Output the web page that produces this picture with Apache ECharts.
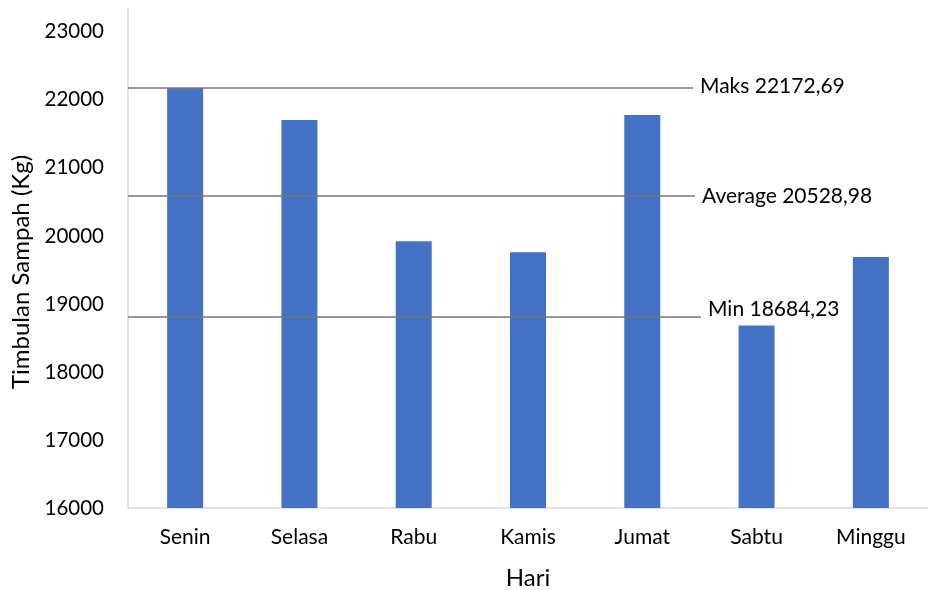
<!DOCTYPE html>
<html>
<head>
<meta charset="utf-8">
<script src="https://cdn.jsdelivr.net/npm/echarts@6/dist/echarts.min.js"></script>
<style>
  html, body { margin: 0; padding: 0; background: #fff; }
  #chart { width: 928px; height: 590px; }
</style>
</head>
<body>
<div id="chart"></div>
<script>
// data
var days = ['Senin', 'Selasa', 'Rabu', 'Kamis', 'Jumat', 'Sabtu', 'Minggu'];
var sampah = [22172.69, 21703, 19920, 19758, 21777, 18684.23, 19690];
// reference lines: where they sit in the picture, and their text
var refValues = [22172.69, 20590, 18812];
var refLabels = ['Maks 22172,69', 'Average 20528,98', 'Min 18684,23'];

var font = 'Lato';
var chart = echarts.init(document.getElementById('chart'));

// hand-drawn look: each line stops at a slightly different x, min label sits above its line
var lineEndX = [693, 695, 701];
var labelShift = [[0, -2], [0, 0], [0, -7]];
var lineData = [];
for (var i = 0; i < refValues.length; i++) {
  lineData.push([
    { yAxis: refValues[i], x: 128 },
    { yAxis: refValues[i], x: lineEndX[i], label: { formatter: refLabels[i], offset: labelShift[i] } }
  ]);
}

chart.setOption({
  animation: false,
  grid: { left: 128, right: 0, top: 8, bottom: 82, containLabel: false, outerBoundsMode: 'none' },
  xAxis: {
    type: 'category',
    data: days,
    name: 'Hari',
    nameLocation: 'middle',
    nameGap: 58,
    nameTextStyle: { fontFamily: font, fontSize: 24, color: '#000' },
    axisLine: { lineStyle: { color: '#d9d9d9', width: 1.5 } },
    axisTick: { show: false },
    axisLabel: { fontFamily: font, fontSize: 21, color: '#000', margin: 19 }
  },
  yAxis: {
    type: 'value',
    min: 16000,
    max: 23350,
    interval: 1000,
    name: 'Timbulan Sampah (Kg)',
    nameLocation: 'middle',
    nameGap: 93,
    nameTextStyle: { fontFamily: font, fontSize: 24, color: '#000', padding: [0, 28, 0, 0] },
    axisLine: { show: true, lineStyle: { color: '#d9d9d9', width: 1.5 } },
    axisTick: { show: false },
    splitLine: { show: false },
    axisLabel: {
      fontFamily: font, fontSize: 20.5, color: '#000', margin: 24, showMaxLabel: false,
      formatter: function (v) { return String(v); }
    }
  },
  series: [{
    type: 'bar',
    data: sampah,
    barWidth: 36,
    itemStyle: { color: '#4472c4' },
    markLine: {
      silent: true,
      symbol: 'none',
      lineStyle: { color: '#767676', width: 1.5, type: 'solid' },
      label: {
        position: 'end',
        distance: 7,
        fontFamily: font,
        fontSize: 21,
        color: '#000'
      },
      data: lineData
    }
  }]
});
</script>
</body>
</html>
